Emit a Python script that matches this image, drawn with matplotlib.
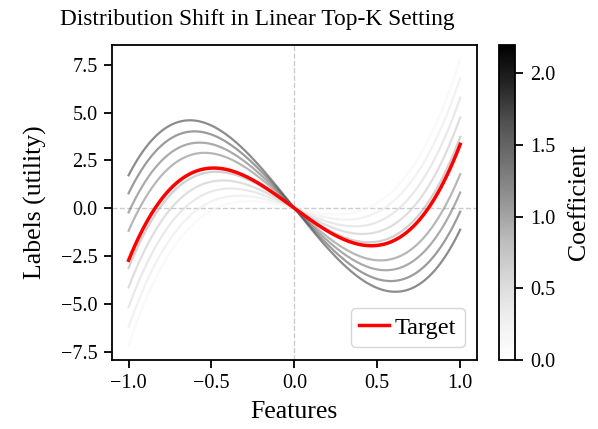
import numpy as np
import matplotlib
matplotlib.use("Agg")
import matplotlib.pyplot as plt
from matplotlib import cm, colors

plt.rcParams['font.family'] = ['Liberation Serif', 'DejaVu Serif']

# Cubic label curves y = a*x^3 + b*x^2 + c*x
feature_range = (-1.0, 1.0)
cubic_term = 9.43
gray_quad_term = 0.30
# linear term of every grey curve, darkest to lightest
gray_linear_terms = [-10.85, -9.91, -8.91, -7.95, -6.00, -4.99, -3.96, -2.92, -1.97]
# colour value (Coefficient) of every grey curve
gray_coefficients = [2.0, 1.8, 1.6, 1.4, 1.0, 0.8, 0.6, 0.4, 0.2]
target_quad_term = 0.31
target_linear_term = -6.40
coef_limits = (0.0, 2.2)

x = np.linspace(feature_range[0], feature_range[1], 200)

fig = plt.figure(figsize=(5.98, 4.29), dpi=100)
ax = fig.add_axes([0.1873, 0.162, 0.610, 0.732])
cax = fig.add_axes([0.8345, 0.161, 0.027, 0.735])

cmap = plt.get_cmap('Greys')
norm = colors.Normalize(vmin=coef_limits[0], vmax=coef_limits[1])

ax.axhline(0, color='#cccccc', ls='--', lw=1, zorder=0)
ax.axvline(0, color='#cccccc', ls='--', lw=1, zorder=0)

for lin, coef in zip(gray_linear_terms, gray_coefficients):
    y = cubic_term * x**3 + gray_quad_term * x**2 + lin * x
    ax.plot(x, y, color=cmap(norm(coef)), alpha=0.5, lw=1.6)

y_target = cubic_term * x**3 + target_quad_term * x**2 + target_linear_term * x
ax.plot(x, y_target, color='red', lw=2.5, label='Target')

fig.text(0.43, 0.955, 'Distribution Shift in Linear Top-K Setting',
         fontsize=16.8, ha='center', va='center')
ax.set_xlabel('Features', fontsize=18.5, labelpad=6)
ax.set_ylabel('Labels (utility)', fontsize=18.5, labelpad=10)
ax.set_xticks([-1.0, -0.5, 0.0, 0.5, 1.0])
ax.set_yticks([-7.5, -5.0, -2.5, 0.0, 2.5, 5.0, 7.5])
ax.tick_params(labelsize=14.5, width=1.3, length=6, pad=4.5)
for sp in ax.spines.values():
    sp.set_linewidth(1.3)
ax.legend(loc='lower right', fontsize=17.5, handlelength=1.2, borderpad=0.35,
          handletextpad=0.25)

sm = cm.ScalarMappable(norm=norm, cmap=cmap)
cb = fig.colorbar(sm, cax=cax)
cb.set_label('Coefficient', fontsize=18.5, labelpad=9)
cb.set_ticks([0.0, 0.5, 1.0, 1.5, 2.0])
cb.ax.tick_params(labelsize=14.5, width=1.3, length=6, pad=4.5)
cb.outline.set_linewidth(1.3)

fig.savefig('out.png', dpi=100)
